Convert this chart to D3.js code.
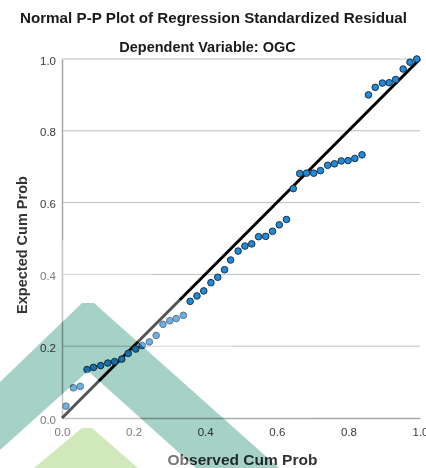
<!DOCTYPE html>
<html>
<head>
<meta charset="utf-8">
<script src="https://cdn.jsdelivr.net/npm/d3@7"></script>
<style>
  html, body { margin: 0; padding: 0; background: #fff; }
  svg { display: block; }
  text { font-family: "Liberation Sans", Arial, sans-serif; }
</style>
</head>
<body>
<svg id="chart" width="426" height="468"></svg>
<script>
// ---- data ----
const titleText = "Normal P-P Plot of Regression Standardized Residual";
const subtitleText = "Dependent Variable: OGC";
const xTitle = "Observed Cum Prob";
const yTitle = "Expected Cum Prob";
const tickValues = [0.0, 0.2, 0.4, 0.6, 0.8, 1.0];
const observedCumProb = [0.011,0.032,0.051,0.070,0.088,0.108,0.128,0.147,0.167,0.185,
  0.206,0.224,0.244,0.263,0.282,0.301,0.319,0.339,0.358,0.377,
  0.396,0.416,0.435,0.454,0.471,0.492,0.511,0.530,0.549,0.569,
  0.588,0.607,0.627,0.646,0.664,0.683,0.703,0.722,0.742,0.761,
  0.780,0.799,0.818,0.838,0.856,0.875,0.895,0.914,0.932,0.953,
  0.972,0.991];
const expectedCumProb = [0.033,0.084,0.088,0.135,0.141,0.146,0.153,0.157,0.164,0.180,
  0.192,0.202,0.212,0.230,0.261,0.271,0.277,0.286,0.325,0.340,
  0.354,0.377,0.392,0.413,0.440,0.465,0.479,0.485,0.505,0.506,
  0.520,0.538,0.553,0.639,0.681,0.682,0.682,0.689,0.704,0.708,
  0.716,0.717,0.723,0.733,0.900,0.921,0.933,0.934,0.943,0.972,
  0.991,1.000];
const referenceLine = [[0, 0], [1, 1]];

(function () {
// ---- layout ----
const svg = d3.select("#chart");
const mLeft = 62, mRight = 420, mTop = 59, mBottom = 418;
const x = d3.scaleLinear().domain([0, 1]).range([mLeft, mRight]);
const y = d3.scaleLinear().domain([0, 1]).range([mBottom, mTop]);

// titles
svg.append("text").attr("x", 213.5).attr("y", 23).attr("text-anchor", "middle")
  .attr("font-size", 15.2).attr("font-weight", "bold").attr("fill", "#1a1a1a").text(titleText);
svg.append("text").attr("x", 207.5).attr("y", 52).attr("text-anchor", "middle")
  .attr("font-size", 14.5).attr("font-weight", "bold").attr("fill", "#1a1a1a").text(subtitleText);

// gridlines
svg.append("g").selectAll("line").data(tickValues.filter(d => d > 0)).join("line")
  .attr("x1", mLeft).attr("x2", mRight)
  .attr("y1", d => y(d)).attr("y2", d => y(d))
  .attr("stroke", "#bdbdbd").attr("stroke-width", 1);

// axes
const xAxis = d3.axisBottom(x).tickValues(tickValues).tickFormat(d3.format(".1f")).tickSize(0).tickPadding(10);
const yAxis = d3.axisLeft(y).tickValues(tickValues).tickFormat(d3.format(".1f")).tickSize(0).tickPadding(6);
const gx = svg.append("g").attr("transform", `translate(0,${mBottom})`).call(xAxis);
const gy = svg.append("g").attr("transform", `translate(${mLeft},0)`).call(yAxis);
[gx, gy].forEach(g => {
  g.select(".domain").attr("stroke", "#a8a8a8").attr("stroke-width", 1.5);
  g.selectAll("text").attr("font-size", 11.5).attr("fill", "#3a3a3a")
    .attr("font-family", "Liberation Sans, Arial, sans-serif");
});
gy.selectAll(".tick text").attr("dy", "0.45em");

// axis titles
svg.append("text").attr("x", 242.5).attr("y", 465).attr("text-anchor", "middle")
  .attr("font-size", 15.5).attr("font-weight", "bold").attr("fill", "#333").text(xTitle);
svg.append("text").attr("transform", `translate(27,245) rotate(-90)`)
  .attr("text-anchor", "middle")
  .attr("font-size", 14.5).attr("font-weight", "bold").attr("fill", "#333").text(yTitle);

// reference line
svg.append("line")
  .attr("x1", x(referenceLine[0][0])).attr("y1", y(referenceLine[0][1]))
  .attr("x2", x(referenceLine[1][0])).attr("y2", y(referenceLine[1][1]))
  .attr("stroke", "#000").attr("stroke-width", 3);

// points
svg.append("g").selectAll("circle").data(observedCumProb.map((o, i) => [o, expectedCumProb[i]]))
  .join("circle")
  .attr("cx", d => x(d[0])).attr("cy", d => y(d[1])).attr("r", 3.3)
  .attr("fill", "#1f8ad9").attr("stroke", "#1b3148").attr("stroke-width", 1);

// decorative watermark overlay (not data)
const wm = svg.append("g").attr("pointer-events", "none");
wm.append("polygon")
  .attr("points", "40,260 82,223 94,223 312,418 224,418 94,303 82,303 40,343")
  .attr("fill", "#fff").attr("fill-opacity", 0.33);
wm.append("polygon")
  .attr("points", "0,450 88,371 196,468 138,468 92,428 82,428 34,468 0,468")
  .attr("fill", "#fff").attr("fill-opacity", 0.33);
wm.append("polygon")
  .attr("points", "0,382 82,303 94,303 279,468 196,468 88,371 0,450")
  .attr("fill", "#a6d1c7").style("mix-blend-mode", "multiply");
wm.append("polygon")
  .attr("points", "34,468 82,428 92,428 138,468")
  .attr("fill", "#d0e8ba").style("mix-blend-mode", "multiply");
})();
</script>
</body>
</html>
